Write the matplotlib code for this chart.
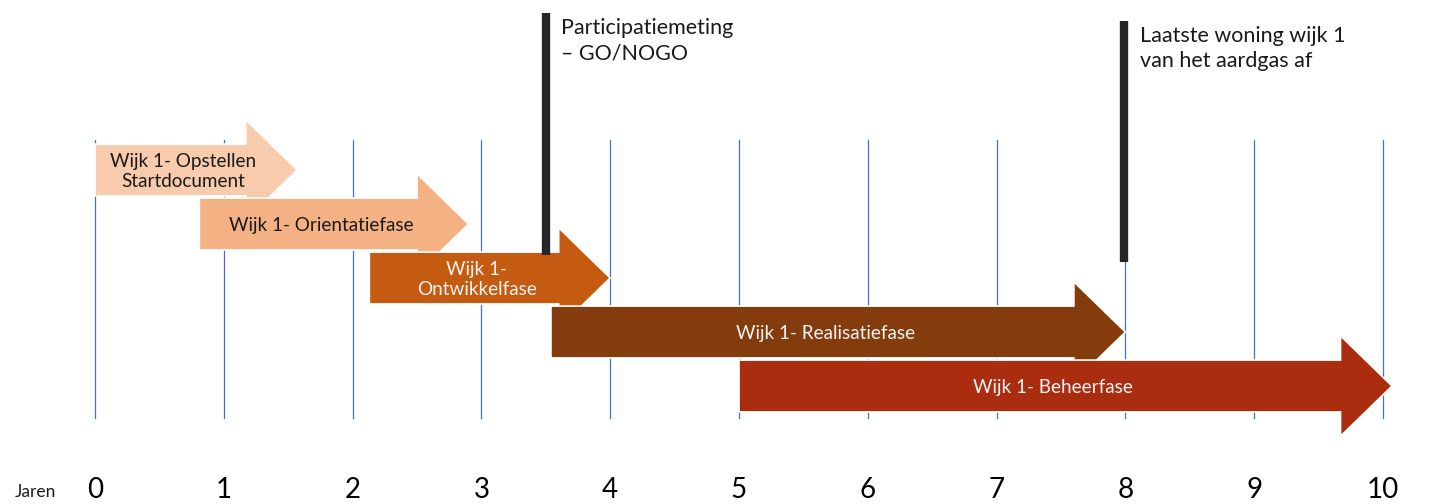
import matplotlib.pyplot as plt
from matplotlib.patches import Polygon

plt.rcParams["font.family"] = ["Lato", "DejaVu Sans"]

# Phases of wijk 1, start and end in years, one lane per phase
phases = [
    "Wijk 1- Opstellen\nStartdocument",
    "Wijk 1- Orientatiefase",
    "Wijk 1-\nOntwikkelfase",
    "Wijk 1- Realisatiefase",
    "Wijk 1- Beheerfase",
]
starts = [0.0, 0.81, 2.13, 3.54, 5.0]
ends = [1.57, 2.9, 4.0, 8.0, 10.07]
lanes = [0, 1, 2, 3, 4]
colors = ["#F8CBAD", "#F4B183", "#C55A11", "#843C0C", "#AA2D10"]
text_colors = ["#1a1a1a", "#1a1a1a", "#f4f4f4", "#f4f4f4", "#f4f4f4"]

# Milestones (black bars)
milestones = [3.5, 7.99]
milestone_labels = ["Participatiemeting\n\u2013 GO/NOGO", "Laatste woning wijk 1\nvan het aardgas af"]

years = list(range(0, 11))

fig = plt.figure(figsize=(14.29, 5.04), dpi=100)
ax = fig.add_axes([0, 0, 1, 1])
ax.set_xlim(-0.7376, 10.357)
ax.set_ylim(6.185, -3.148)
ax.axis("off")

# year gridlines
for yr in years:
    ax.plot([yr, yr], [-0.556, 4.59], color="#4472C4", lw=0.9, zorder=1)

head = 0.4
body_h = 0.48
head_h = 0.93
for name, s, e, lane, c, tc in zip(phases, starts, ends, lanes, colors, text_colors):
    hx = e - head
    pts = [
        (s, lane - body_h), (hx, lane - body_h), (hx, lane - head_h),
        (e, lane), (hx, lane + head_h), (hx, lane + body_h), (s, lane + body_h),
    ]
    ax.add_patch(Polygon(pts, closed=True, facecolor=c, edgecolor="white",
                         lw=1.2, zorder=2 + lane))
    ax.text((s + e - head / 2) / 2, lane + 0.03, name, color=tc, fontsize=13.6,
            ha="center", va="center", linespacing=1.2, zorder=10)

# milestone bars with their labels
bar_tops = [-2.91, -2.76]
bar_bottoms = [1.57, 1.70]
for m, lab, t, b in zip(milestones, milestone_labels, bar_tops, bar_bottoms):
    ax.plot([m, m], [t, b], color="#262626", lw=6, solid_capstyle="butt", zorder=8)
    ax.text(m + 0.12, t + 0.1, lab, fontsize=15.5, color="#1a1a1a",
            ha="left", va="top", linespacing=1.3, zorder=10)

# year axis labels
for yr in years:
    ax.text(yr, 5.93, str(yr), fontsize=20, ha="center", va="center", color="black")
ax.text(-0.46, 5.96, "Jaren", fontsize=12.5, ha="center", va="center", color="#1a1a1a")

fig.savefig("out.png", dpi=100)
